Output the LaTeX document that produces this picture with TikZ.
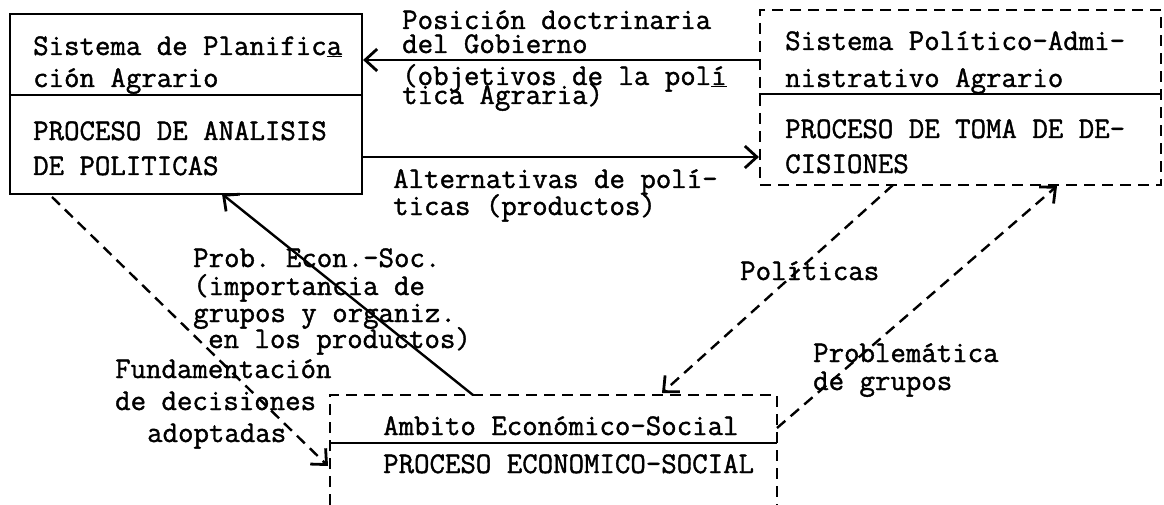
\documentclass[tikz,border=0pt]{standalone}
\usepackage{fontspec}
\setmonofont{Latin Modern Mono}[FakeBold=1.3]
\usetikzlibrary{arrows.meta}
\begin{document}
\begin{tikzpicture}[x=1pt,y=-1pt,
  every node/.style={inner sep=0pt,font=\ttfamily\fontsize{30}{34}\selectfont},
  txt/.style={anchor=base west},
  solidbox/.style={draw,line width=2.2pt,rectangle},
  dashbox/.style={draw,line width=2.2pt,rectangle,dash pattern=on 11pt off 7pt},
  dashline/.style={line width=2.2pt,dash pattern=on 11pt off 7pt},
  arr/.style={line width=2.4pt,-{Straight Barb[length=12pt,width=22pt,line width=2.8pt]}},
  darr/.style={arr,dash pattern=on 11pt off 7pt}]
\useasboundingbox (0,0) rectangle (1164,505);
% boxes
\node[solidbox,minimum width=352pt,minimum height=180pt] (L) at (186,104) {};
\node[dashbox,minimum width=401pt,minimum height=175pt] (R) at (960.5,97.5) {};
\coordinate (B1) at (330,505);
\coordinate (B2) at (330,395);
\coordinate (B3) at (777,395);
\coordinate (B4) at (777,505);
\draw[dashline] (B1) -- (B2) -- (B3) -- (B4);
% dividers
\coordinate (yL) at (0,95);
\coordinate (yR) at (0,94);
\coordinate (yB) at (0,443);
\draw[line width=2.2pt] (L.west |- yL) -- (L.east |- yL);
\draw[line width=2.2pt] (R.west |- yR) -- (R.east |- yR);
\draw[line width=2.2pt] (B2 |- yB) -- (B3 |- yB);
% box texts
\node[txt] (l1) at (33,55) {Sistema de Planific\underline{a}};
\node[txt] (l2) at (33,87) {ción Agrario};
\node[txt] (l3) at (33,140) {PROCESO DE ANALISIS};
\node[txt] (l4) at (33,175) {DE POLITICAS};
\node[txt] (r1) at (785,50) {Sistema Político-Admi-};
\node[txt] (r2) at (785,87) {nistrativo Agrario};
\node[txt] (r3) at (785,138) {PROCESO DE TOMA DE DE-};
\node[txt] (r4) at (785,173) {CISIONES};
\node[txt] (b1) at (383,435) {Ambito Económico-Social};
\node[txt] (b2) at (383,473) {PROCESO ECONOMICO-SOCIAL};
% horizontal arrows
\coordinate (y60) at (0,60);
\coordinate (y157) at (0,157);
\draw[arr] (R.west |- y60) -- (L.east |- y60);
\draw[arr] (L.east |- y157) -- (R.west |- y157);
% diagonal arrows
\coordinate (Sa) at (473,395);
\coordinate (Sb) at (222,194);
\draw[arr] (Sa) -- (Sb);
\coordinate (Fa) at (52,197);
\coordinate (Fb) at (328,466);
\draw[darr] (Fa) -- (Fb);
\coordinate (Pa) at (893,185);
\coordinate (Pb) at (662,393);
\draw[darr] (Pa) -- (Pb);
\coordinate (Qa) at (777,428);
\coordinate (Qb) at (1057,186);
\draw[darr] (Qa) -- (Qb);
% labels
\node[txt] (a1) at (402,29) {Posición doctrinaria};
\node[txt] (a2) at (402,53) {del Gobierno};
\node[txt] (a3) at (402,85) {(objetivos de la pol\underline{í}};
\node[txt] (a4) at (402,104) {tica Agraria)};
\node[txt] (c1) at (393,188) {Alternativas de polí-};
\node[txt] (c2) at (393,215) {ticas (productos)};
\node[txt] (p1) at (193,267) {Prob. Econ.-Soc.};
\node[txt] (p2) at (193,295) {(importancia de};
\node[txt] (p3) at (193,322) {grupos y organiz.};
\node[txt] (p4) at (208,348) {en los productos)};
\node[txt] (f1) at (115,378) {Fundamentación};
\node[txt] (f2) at (115,410) {de decisiones};
\node[txt] (f3) at (147,442) {adoptadas};
\node[txt] (g1) at (740,280) {Políticas};
\node[txt] (h1) at (813,362) {Problemática};
\node[txt] (h2) at (813,390) {de grupos};
\end{tikzpicture}
\end{document}
